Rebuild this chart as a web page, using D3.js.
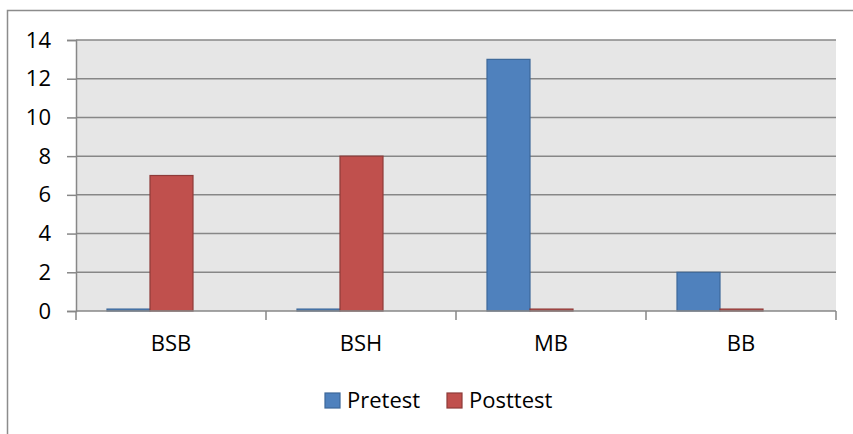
<!DOCTYPE html>
<html>
<head>
<meta charset="utf-8">
<script src="https://cdn.jsdelivr.net/npm/d3@7"></script>
<style>
  body { margin: 0; background: #fff; }
  text { font-family: "Open Sans", "Liberation Sans", Arial, sans-serif; fill: #000; }
</style>
</head>
<body>
<div id="chart"></div>
<script>
var categories = ["BSB", "BSH", "MB", "BB"];
var series = ["Pretest", "Posttest"];
var pretest = [0.1, 0.1, 13, 2];
var posttest = [7, 8, 0.1, 0.1];
var yTicks = [0, 2, 4, 6, 8, 10, 12, 14];

var width = 853, height = 434;
var fontStack = "Open Sans, Liberation Sans, Arial, sans-serif";
var colors = { Pretest: "#4f81bd", Posttest: "#c0504d" };
var strokes = { Pretest: "#3d6899", Posttest: "#8e3b39" };

var svg = d3.select("#chart").append("svg")
    .attr("width", width)
    .attr("height", height);

// outer frame (only top and left visible)
svg.append("path")
   .attr("d", "M7.5,434 V10.5 H853")
   .attr("fill", "none")
   .attr("stroke", "#8c8c8c")
   .attr("stroke-width", 1.5);

var plotL = 76, plotR = 836, plotT = 40, plotB = 311;

var x = d3.scaleBand().domain(categories).range([plotL, plotR]);
// bars sit left inside each category slot
var x1 = d3.scaleBand().domain(series).range([31, 117]);
var y = d3.scaleLinear().domain([0, 14]).range([plotB, plotT]);

// plot background
svg.append("rect")
   .attr("x", plotL).attr("y", plotT)
   .attr("width", plotR - plotL).attr("height", plotB - plotT)
   .attr("fill", "#e6e6e6");

// gridlines
svg.append("g").selectAll("line")
   .data(yTicks.filter(function(d){ return d > 0; }))
   .enter().append("line")
   .attr("x1", plotL).attr("x2", plotR)
   .attr("y1", function(d){ return y(d); })
   .attr("y2", function(d){ return y(d); })
   .attr("stroke", "#878787")
   .attr("stroke-width", 1.5);

// bars
var rows = categories.map(function(c, i){
    return { cat: c, vals: [{ s: "Pretest", v: pretest[i] }, { s: "Posttest", v: posttest[i] }] };
});

svg.append("g").selectAll("g")
   .data(rows)
   .enter().append("g")
   .attr("transform", function(d){ return "translate(" + x(d.cat) + ",0)"; })
   .selectAll("rect")
   .data(function(d){ return d.vals; })
   .enter().append("rect")
   .attr("x", function(d){ return x1(d.s); })
   .attr("width", x1.bandwidth())
   .attr("y", function(d){ return y(d.v); })
   .attr("height", function(d){ return y(0) - y(d.v); })
   .attr("fill", function(d){ return colors[d.s]; })
   .attr("stroke", function(d){ return strokes[d.s]; })
   .attr("stroke-width", 1.2);

// y axis
var yAxis = d3.axisLeft(y).tickValues(yTicks).tickSize(9).tickPadding(16);
var gy = svg.append("g")
   .attr("transform", "translate(" + plotL + ",0)")
   .call(yAxis);
gy.select(".domain").attr("stroke", "#878787").attr("stroke-width", 1.5);
gy.selectAll(".tick line").attr("stroke", "#878787").attr("stroke-width", 1.5);
gy.selectAll(".tick text").style("font-size", "22px")
  .style("font-family", fontStack).attr("fill", "#000");

// x axis
var xAxis = d3.axisBottom(x).tickSize(0).tickPadding(24);
var gx = svg.append("g")
   .attr("transform", "translate(0," + plotB + ")")
   .call(xAxis);
gx.select(".domain").attr("stroke", "#878787").attr("stroke-width", 1.5)
  .attr("d", "M" + plotL + ",0H" + plotR);
gx.selectAll(".tick text").style("font-size", "22px")
  .style("font-family", fontStack).attr("fill", "#000");

// category boundary ticks
var bounds = categories.map(function(c){ return x(c); }).concat([plotR]);
svg.append("g").selectAll("line")
   .data(bounds)
   .enter().append("line")
   .attr("x1", function(d){ return d; }).attr("x2", function(d){ return d; })
   .attr("y1", plotB).attr("y2", plotB + 9)
   .attr("stroke", "#878787")
   .attr("stroke-width", 1.5);

// legend
var legendX = [325, 447];
var legend = svg.append("g").selectAll("g")
   .data(series)
   .enter().append("g")
   .attr("transform", function(d, i){ return "translate(" + legendX[i] + ",393)"; });
legend.append("rect")
   .attr("width", 15).attr("height", 15)
   .attr("fill", function(d){ return colors[d]; })
   .attr("stroke", function(d){ return strokes[d]; })
   .attr("stroke-width", 1.2);
legend.append("text")
   .attr("x", 22).attr("y", 15)
   .style("font-size", "22px")
   .style("font-family", fontStack)
   .text(function(d){ return d; });
</script>
</body>
</html>
